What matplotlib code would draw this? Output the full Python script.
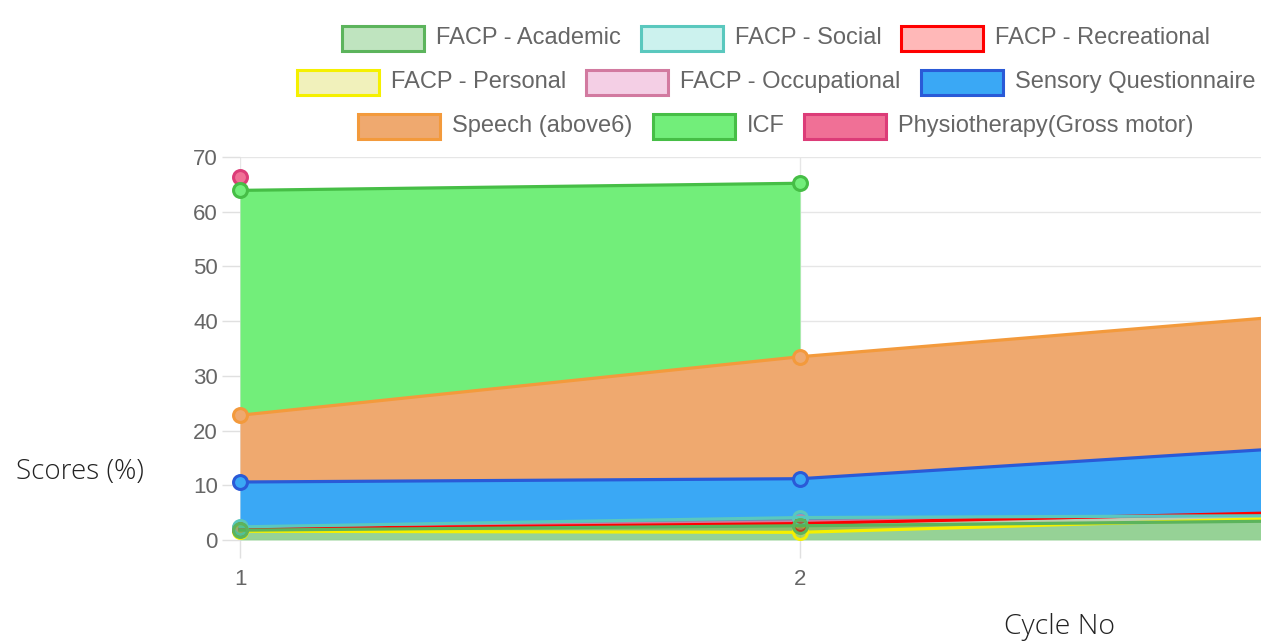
import numpy as np
import matplotlib
matplotlib.use('Agg')
import matplotlib.pyplot as plt
from matplotlib.patches import Rectangle

# ---- data -------------------------------------------------------------
cycles = [1, 2, 3]
series_names = [
    'FACP - Academic', 'FACP - Social', 'FACP - Recreational',
    'FACP - Personal', 'FACP - Occupational', 'Sensory Questionnaire',
    'Speech (above6)', 'ICF', 'Physiotherapy(Gross motor)',
]
academic = [1.8, 2.6, 3.6]
social = [2.4, 4.1, 4.5]
recreational = [2.0, 3.0, 5.3]
personal = [1.6, 1.4, 4.4]
occupational = [2.2, 3.3, 5.0]
sensory = [10.6, 11.2, 17.6]
speech = [22.8, 33.5, 42.0]
icf = [63.9, 65.2, np.nan]
physio = [66.4, np.nan, np.nan]
y_ticks = [0, 10, 20, 30, 40, 50, 60, 70]

values = [academic, social, recreational, personal, occupational,
          sensory, speech, icf, physio]

# legend / point colours (semi transparent like the chart's backgroundColor)
fills = [(0.29, 0.70, 0.29, 0.35), (0.29, 0.82, 0.76, 0.28), (1.0, 0.0, 0.0, 0.28),
         (0.82, 0.82, 0.12, 0.30), (0.86, 0.39, 0.67, 0.30), '#3aa8f5',
         '#efa96f', '#72ee7a', '#f07096']
# area colours: the academic band shows up darker in the plot
area = list(fills)
area[0] = (0.29, 0.70, 0.29, 0.58)
edges = ['#5cb45c', '#5ac8be', '#ff0000', '#f5f000', '#d27aa0', '#2a5ad7',
         '#f39a3c', '#46be46', '#dc3c78']

W, H = 1261, 643
fig = plt.figure(figsize=(W / 100, H / 100), dpi=100)
fig.patch.set_facecolor('white')

# plot area in pixels: x=1 at 240, x=2 at 800, y=0 at 540, y=70 at 157
x0px, x_unit = 240, 560
ax = fig.add_axes([x0px / W, (H - 540) / H, (W - x0px) / W, (540 - 157) / H])
ax.set_xlim(1, 1 + (W - x0px) / x_unit)
ax.set_ylim(0, 70)

# each dataset fills down to the previous one (academic to the origin)
n = len(values)
for i in range(n - 1, -1, -1):
    y = np.array(values[i], dtype=float)
    base = np.zeros(len(y)) if i == 0 else np.array(values[i - 1], dtype=float)
    base = np.where(np.isnan(base), 0, base)
    z = 2 + (n - i) * 0.01
    ax.fill_between(cycles, base, y, color=area[i], linewidth=0, zorder=z)
for i in range(n - 1, -1, -1):
    y = np.array(values[i], dtype=float)
    z = 3 + (n - i) * 0.01
    ax.plot(cycles, y, color=edges[i], lw=2.3, zorder=z, clip_on=False,
            marker='o', ms=10, mfc=fills[i], mec=edges[i], mew=2.2)

# grid / axes styling (Chart.js look)
ax.set_yticks(y_ticks)
ax.set_xticks([1, 2])
ax.grid(True, color='#e6e6e6', lw=1, zorder=0)
for s in ax.spines.values():
    s.set_visible(False)
ax.axvline(1, color='#c8c8c8', lw=1.2, zorder=1)
ax.tick_params(axis='both', length=13, color='#e0e0e0', width=1,
               labelsize=16, labelcolor='#666666')
ax.tick_params(axis='y', pad=3)
ax.tick_params(axis='x', pad=8)
for lab in ax.get_xticklabels() + ax.get_yticklabels():
    lab.set_fontfamily('Liberation Sans')

# axis titles (horizontal, outside plot)
fig.text(80 / W, 1 - 472 / H, 'Scores (%)', ha='center', va='center',
         fontsize=20, color='#222222', family='Open Sans', fontweight='light')
fig.text(1060 / W, 1 - 627 / H, 'Cycle No', ha='center', va='center',
         fontsize=20.5, color='#222222', family='Open Sans', fontweight='light')

# ---- legend drawn Chart.js style: centered rows ----------------------
lax = fig.add_axes([0, 0, 1, 1])
lax.set_xlim(0, W)
lax.set_ylim(H, 0)
lax.axis('off')
rows = [[0, 1, 2], [3, 4, 5], [6, 7, 8]]
row_y = [38, 82, 126]
box_w, box_h, gap_txt, gap_item = 82, 25, 12, 20
center_x = 776
fig.canvas.draw()
renderer = fig.canvas.get_renderer()
for r, idxs in enumerate(rows):
    widths = []
    texts = []
    for i in idxs:
        t = lax.text(0, row_y[r], series_names[i], fontsize=17,
                     family='Liberation Sans', color='#666666', va='center')
        bb = t.get_window_extent(renderer=renderer)
        widths.append(bb.width)
        texts.append(t)
    total = sum(box_w + gap_txt + w for w in widths) + gap_item * (len(idxs) - 1)
    x = center_x - total / 2
    for i, t, w in zip(idxs, texts, widths):
        lax.add_patch(Rectangle((x, row_y[r] - box_h / 2), box_w, box_h,
                                facecolor=fills[i], edgecolor=edges[i], lw=2.2))
        t.set_x(x + box_w + gap_txt)
        x += box_w + gap_txt + w + gap_item

fig.savefig('out.png', dpi=100, facecolor='white')
